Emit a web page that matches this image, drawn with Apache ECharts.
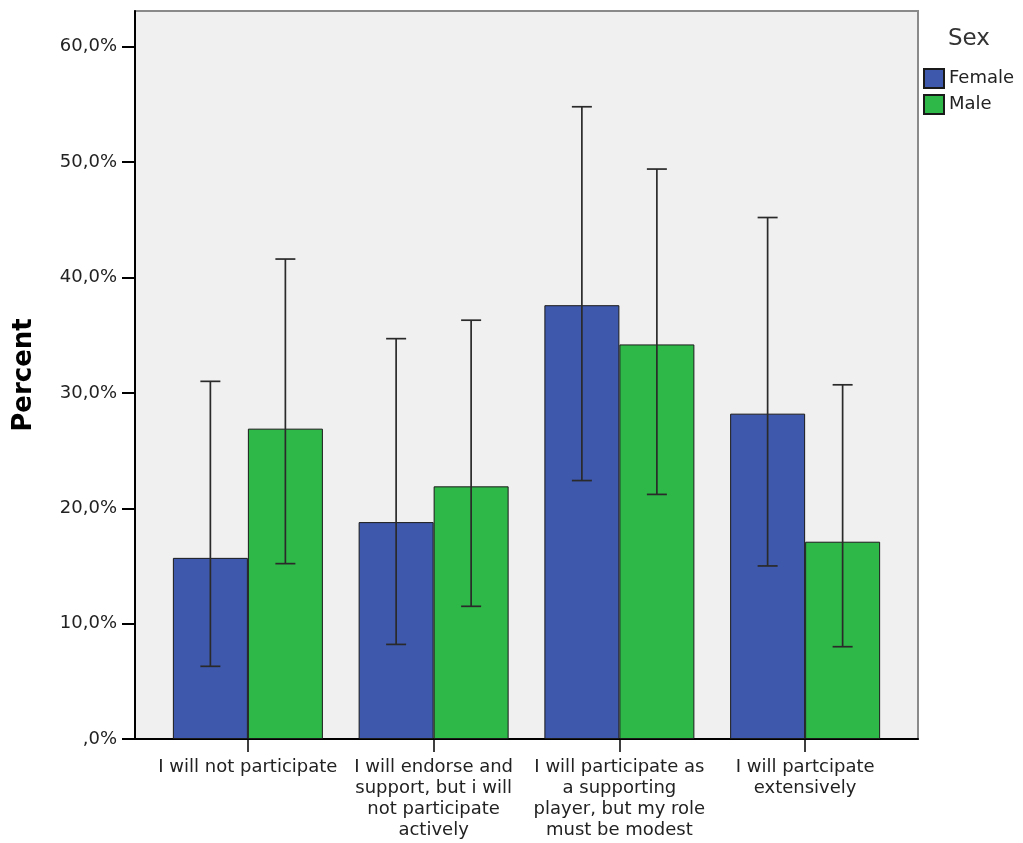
<!DOCTYPE html>
<html>
<head>
<meta charset="utf-8">
<script src="https://cdn.jsdelivr.net/npm/echarts@6/dist/echarts.min.js"></script>
<style>
html,body{margin:0;padding:0;background:#fff;}
#chart{width:1023px;height:843px;}
</style>
</head>
<body>
<div id="chart"></div>
<script>
var categories = [
  'I will not participate',
  'I will endorse and\nsupport, but i will\nnot participate\nactively',
  'I will participate as\na supporting\nplayer, but my role\nmust be modest',
  'I will partcipate\nextensively'
];
var seriesNames = ['Female', 'Male'];
var femaleValues = [15.7, 18.8, 37.6, 28.2];
var maleValues = [26.9, 21.9, 34.2, 17.1];
var femaleLow = [6.3, 8.2, 22.4, 15.0];
var femaleHigh = [31.0, 34.7, 54.8, 45.2];
var maleLow = [15.2, 11.5, 21.2, 8.0];
var maleHigh = [41.6, 36.3, 49.4, 30.7];
var yTicks = [0, 10, 20, 30, 40, 50, 60];
var legendTitle = 'Sex';
var yTitle = 'Percent';

var FONT = 'DejaVu Sans';
var BAR_W = 75;
var YMAX = 63.1;

function fmt(v) {
  if (v === 0) return ',0%';
  return v.toFixed(1).replace('.', ',') + '%';
}

function errorSeries(name, low, high, side) {
  var data = low.map(function (l, i) { return [i, l, high[i]]; });
  return {
    type: 'custom',
    name: name + ' error',
    xAxisIndex: 1,
    yAxisIndex: 1,
    silent: true,
    z: 10,
    data: data,
    renderItem: function (params, api) {
      var i = api.value(0);
      var lo = api.coord([i, api.value(1)]);
      var hi = api.coord([i, api.value(2)]);
      var x = lo[0] + side * BAR_W / 2;
      var cap = 10;
      var st = { stroke: '#2a2a2a', lineWidth: 1.7 };
      return {
        type: 'group',
        children: [
          { type: 'line', shape: { x1: x, y1: lo[1], x2: x, y2: hi[1] }, style: st },
          { type: 'line', shape: { x1: x - cap, y1: hi[1], x2: x + cap, y2: hi[1] }, style: st },
          { type: 'line', shape: { x1: x - cap, y1: lo[1], x2: x + cap, y2: lo[1] }, style: st }
        ]
      };
    }
  };
}

var chart = echarts.init(document.getElementById('chart'), null, { renderer: 'canvas' });
chart.setOption({
  animation: false,
  backgroundColor: '#ffffff',
  textStyle: { fontFamily: FONT },
  grid: [
    { left: 135, top: 11, width: 783, height: 728, show: true, backgroundColor: '#f0f0f0', borderColor: '#8a8a8a', borderWidth: 2, z: 0 },
    { left: 155, top: 11, width: 743, height: 728, show: false }
  ],
  xAxis: [
    { gridIndex: 0, type: 'value', min: 0, max: 1,
      axisLine: { show: true, onZero: false, lineStyle: { color: '#000', width: 2 } },
      axisTick: { show: false }, axisLabel: { show: false }, splitLine: { show: false } },
    { gridIndex: 1, type: 'category', data: categories, boundaryGap: true,
      axisLine: { show: false },
      axisTick: { show: true, alignWithLabel: true, length: 13, lineStyle: { color: '#000', width: 1.5 } },
      axisLabel: { interval: 0, margin: 18, color: '#222', fontFamily: FONT, fontSize: 18, lineHeight: 21, align: 'center' },
      splitLine: { show: false } }
  ],
  yAxis: [
    { gridIndex: 0, type: 'value', min: 0, max: YMAX,
      axisLine: { show: true, onZero: false, lineStyle: { color: '#000', width: 2 } },
      axisTick: { show: true, length: 13, customValues: yTicks, lineStyle: { color: '#000', width: 2 } },
      axisLabel: { customValues: yTicks, formatter: fmt, margin: 18, color: '#222', fontFamily: FONT, fontSize: 18 },
      splitLine: { show: false },
      name: yTitle, nameLocation: 'middle', nameGap: 98, nameRotate: 90,
      nameTextStyle: { fontFamily: FONT, fontSize: 26, fontWeight: 'bold', color: '#000' } },
    { gridIndex: 1, type: 'value', min: 0, max: YMAX, show: false, splitLine: { show: false } }
  ],
  legend: {
    orient: 'vertical',
    left: 923, top: 68, padding: 0,
    itemWidth: 20, itemHeight: 19, itemGap: 5,
    icon: 'rect',
    data: seriesNames,
    textStyle: { fontFamily: FONT, fontSize: 18, color: '#222' }
  },
  graphic: [
    { type: 'text', left: 948, top: 28, style: { text: legendTitle, fontFamily: FONT, fontSize: 23, fill: '#333' } }
  ],
  series: [
    { name: seriesNames[0], type: 'bar', xAxisIndex: 1, yAxisIndex: 1, data: femaleValues,
      barWidth: BAR_W, barGap: '0%',
      itemStyle: { color: '#3e58ac', borderColor: '#1a1a1a', borderWidth: 1 } },
    { name: seriesNames[1], type: 'bar', xAxisIndex: 1, yAxisIndex: 1, data: maleValues,
      barWidth: BAR_W, barGap: '0%',
      itemStyle: { color: '#2eb848', borderColor: '#1a1a1a', borderWidth: 1 } },
    errorSeries('Female', femaleLow, femaleHigh, -1),
    errorSeries('Male', maleLow, maleHigh, 1)
  ]
});
</script>
</body>
</html>
